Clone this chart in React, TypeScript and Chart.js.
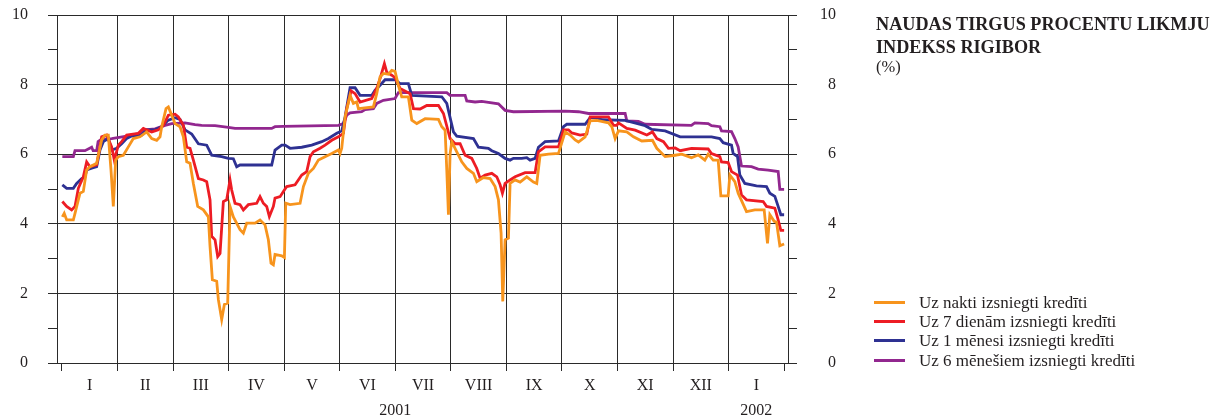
import React, { useEffect, useRef } from "react";
import { Chart, registerables } from "chart.js";

Chart.register(...registerables);

// ---- Axis / label data ----
const monthLabels = ["I", "II", "III", "IV", "V", "VI", "VII", "VIII", "IX", "X", "XI", "XII", "I"];
const yearLabels = ["2001", "2002"];
const yearPositions = [6, 12.5];
const yTickValues = [0, 1, 2, 3, 4, 5, 6, 7, 8, 9, 10];
const seriesLabels = [
  "Uz nakti izsniegti kredīti",
  "Uz 7 dienām izsniegti kredīti",
  "Uz 1 mēnesi izsniegti kredīti",
  "Uz 6 mēnešiem izsniegti kredīti",
];
const seriesColors = ["#F7941D", "#ED1C24", "#2E3192", "#92278F"];

// ---- Series: [months since 1 Jan 2001, rate %] ----
const overnight = [
  [0.006, 4.2], [0.04, 4.3], [0.084, 4.11], [0.204, 4.11], [0.234, 4.3], [0.324, 4.88], [0.384, 4.93],
  [0.444, 5.55], [0.504, 5.64], [0.624, 5.74], [0.714, 6.41], [0.774, 6.55], [0.834, 6.55], [0.882, 5.55],
  [0.924, 4.5], [0.966, 5.83], [1.014, 5.93], [1.104, 5.97], [1.194, 6.21], [1.284, 6.45], [1.404, 6.5],
  [1.524, 6.64], [1.615, 6.45], [1.705, 6.4], [1.765, 6.5], [1.795, 6.79], [1.873, 7.31], [1.915, 7.36],
  [1.963, 7.17], [2.035, 6.88], [2.125, 6.79], [2.185, 6.5], [2.245, 5.78], [2.305, 5.74], [2.365, 5.16],
  [2.443, 4.5], [2.545, 4.4], [2.635, 4.2], [2.665, 3.35], [2.707, 2.39], [2.785, 2.35], [2.815, 1.82],
  [2.875, 1.25], [2.923, 1.68], [2.983, 1.72], [3.025, 4.5], [3.085, 4.2], [3.205, 3.83], [3.265, 3.73],
  [3.325, 4.02], [3.475, 4.02], [3.565, 4.11], [3.655, 3.97], [3.715, 3.54], [3.763, 2.87], [3.805, 2.82],
  [3.835, 3.12], [3.956, 3.08], [4.004, 3.03], [4.028, 4.59], [4.106, 4.55], [4.286, 4.59], [4.346, 5.07],
  [4.436, 5.45], [4.526, 5.59], [4.616, 5.83], [4.736, 5.93], [4.856, 6.02], [4.976, 6.12], [5.006, 6.02],
  [5.036, 6.17], [5.096, 7.07], [5.186, 7.69], [5.246, 7.46], [5.306, 7.5], [5.336, 7.31], [5.606, 7.36],
  [5.666, 7.74], [5.726, 8.22], [5.786, 8.32], [5.876, 8.3], [5.936, 8.41], [5.996, 8.38], [6.056, 7.98],
  [6.116, 7.65], [6.236, 7.65], [6.297, 6.98], [6.387, 6.88], [6.537, 7.02], [6.777, 7.0], [6.837, 6.79],
  [6.897, 6.69], [6.927, 5.55], [6.957, 4.26], [6.987, 6.02], [7.017, 6.36], [7.107, 6.07], [7.197, 5.78],
  [7.287, 5.59], [7.407, 5.45], [7.467, 5.21], [7.587, 5.33], [7.707, 5.3], [7.797, 5.07], [7.857, 4.69],
  [7.905, 3.73], [7.935, 1.77], [7.977, 3.54], [8.037, 3.59], [8.067, 5.16], [8.157, 5.26], [8.247, 5.2],
  [8.367, 5.35], [8.487, 5.2], [8.547, 5.16], [8.607, 5.97], [8.757, 6.0], [8.938, 6.02], [9.058, 6.64],
  [9.148, 6.55], [9.238, 6.41], [9.298, 6.35], [9.418, 6.5], [9.508, 6.96], [9.628, 6.97], [9.838, 6.9],
  [9.898, 6.79], [9.958, 6.45], [10.018, 6.67], [10.168, 6.64], [10.288, 6.5], [10.438, 6.38], [10.63, 6.4],
  [10.708, 6.17], [10.858, 5.93], [11.038, 5.97], [11.158, 6.0], [11.332, 5.9], [11.453, 5.98], [11.573, 5.83],
  [11.633, 6.0], [11.723, 5.83], [11.813, 5.83], [11.861, 4.8], [11.993, 4.8], [12.023, 5.4], [12.113, 5.21],
  [12.173, 4.88], [12.323, 4.35], [12.473, 4.4], [12.641, 4.4], [12.701, 3.44], [12.743, 4.26], [12.821, 4.07],
  [12.863, 4.05], [12.923, 3.37], [13.0, 3.42],
];

const sevenDay = [
  [0.006, 4.64], [0.084, 4.5], [0.174, 4.4], [0.234, 4.5], [0.294, 5.02], [0.384, 5.35], [0.444, 5.78],
  [0.504, 5.64], [0.624, 5.69], [0.714, 6.5], [0.804, 6.55], [0.894, 6.21], [0.942, 5.83], [1.014, 6.26],
  [1.074, 6.36], [1.164, 6.55], [1.374, 6.6], [1.464, 6.74], [1.615, 6.64], [1.735, 6.7], [1.825, 6.83],
  [1.915, 7.12], [2.035, 7.15], [2.095, 7.07], [2.185, 6.83], [2.245, 6.2], [2.305, 6.17], [2.365, 5.83],
  [2.455, 5.3], [2.545, 5.26], [2.605, 5.21], [2.665, 4.69], [2.695, 3.64], [2.755, 3.54], [2.803, 3.06],
  [2.845, 3.15], [2.905, 4.64], [2.965, 4.69], [3.025, 5.26], [3.055, 4.97], [3.115, 4.59], [3.205, 4.55],
  [3.265, 4.4], [3.355, 4.55], [3.505, 4.59], [3.565, 4.78], [3.625, 4.59], [3.685, 4.5], [3.733, 4.21],
  [3.805, 4.5], [3.835, 4.74], [3.926, 4.78], [3.986, 4.93], [4.046, 5.07], [4.196, 5.12], [4.316, 5.4],
  [4.406, 5.5], [4.466, 5.93], [4.526, 6.07], [4.646, 6.17], [4.736, 6.26], [4.856, 6.4], [4.976, 6.5],
  [5.066, 6.6], [5.126, 7.31], [5.204, 7.82], [5.276, 7.74], [5.366, 7.5], [5.576, 7.6], [5.666, 7.89],
  [5.726, 8.17], [5.804, 8.6], [5.846, 8.36], [5.936, 8.27], [5.996, 8.2], [6.086, 7.89], [6.267, 7.74],
  [6.327, 7.31], [6.447, 7.3], [6.567, 7.4], [6.777, 7.4], [6.867, 7.17], [6.987, 6.45], [7.077, 6.3],
  [7.167, 6.3], [7.257, 5.97], [7.377, 5.88], [7.467, 5.59], [7.527, 5.31], [7.617, 5.4], [7.737, 5.45],
  [7.827, 5.35], [7.887, 5.12], [7.929, 4.88], [7.977, 5.16], [8.067, 5.26], [8.157, 5.35], [8.337, 5.47],
  [8.517, 5.47], [8.577, 6.07], [8.697, 6.21], [8.938, 6.21], [9.028, 6.7], [9.118, 6.7], [9.178, 6.61],
  [9.328, 6.55], [9.448, 6.58], [9.508, 7.07], [9.838, 7.07], [9.928, 6.83], [9.988, 6.83], [10.018, 6.9],
  [10.168, 6.74], [10.318, 6.69], [10.528, 6.55], [10.63, 6.64], [10.708, 6.45], [10.828, 6.36], [10.918, 6.17],
  [11.038, 6.18], [11.128, 6.1], [11.332, 6.17], [11.633, 6.15], [11.693, 6.02], [11.843, 5.93], [11.873, 5.78],
  [11.993, 5.76], [12.053, 5.5], [12.161, 5.4], [12.233, 4.83], [12.323, 4.69], [12.623, 4.64], [12.683, 4.5],
  [12.833, 4.45], [12.893, 4.11], [12.941, 3.81], [13.0, 3.81],
];

const oneMonth = [
  [0.006, 5.12], [0.084, 5.02], [0.204, 5.02], [0.264, 5.16], [0.354, 5.3], [0.414, 5.35], [0.444, 5.55],
  [0.534, 5.6], [0.624, 5.64], [0.684, 6.12], [0.744, 6.36], [0.834, 6.45], [0.894, 6.12], [0.984, 6.17],
  [1.074, 6.3], [1.164, 6.45], [1.254, 6.52], [1.434, 6.55], [1.524, 6.7], [1.675, 6.7], [1.795, 6.79],
  [1.915, 6.98], [2.035, 7.05], [2.125, 7.0], [2.215, 6.7], [2.335, 6.58], [2.455, 6.3], [2.605, 6.26],
  [2.695, 5.97], [2.875, 5.93], [2.995, 5.88], [3.085, 5.87], [3.145, 5.64], [3.205, 5.69], [3.775, 5.69],
  [3.835, 6.12], [3.956, 6.26], [4.016, 6.26], [4.106, 6.17], [4.316, 6.2], [4.496, 6.26], [4.676, 6.36],
  [4.796, 6.45], [4.946, 6.6], [5.036, 6.67], [5.096, 7.07], [5.186, 7.91], [5.276, 7.91], [5.366, 7.69],
  [5.576, 7.69], [5.636, 7.84], [5.726, 7.98], [5.816, 8.14], [5.996, 8.14], [6.086, 8.03], [6.236, 8.03],
  [6.297, 7.69], [6.837, 7.65], [6.927, 7.46], [7.047, 6.64], [7.107, 6.52], [7.407, 6.45], [7.497, 6.2],
  [7.677, 6.17], [7.737, 6.1], [7.857, 6.02], [7.977, 5.88], [8.067, 5.83], [8.127, 5.88], [8.277, 5.88],
  [8.367, 5.9], [8.427, 5.83], [8.517, 5.88], [8.577, 6.2], [8.697, 6.36], [8.938, 6.38], [9.028, 6.79],
  [9.088, 6.86], [9.418, 6.86], [9.508, 7.05], [9.628, 7.05], [9.718, 6.99], [10.138, 6.97], [10.258, 6.92],
  [10.498, 6.82], [10.618, 6.71], [10.858, 6.67], [11.128, 6.5], [11.693, 6.5], [11.843, 6.45], [11.903, 6.33],
  [12.053, 6.26], [12.083, 6.02], [12.161, 5.93], [12.203, 5.4], [12.293, 5.16], [12.503, 5.09], [12.683, 5.07],
  [12.743, 4.88], [12.833, 4.79], [12.893, 4.5], [12.941, 4.26], [13.0, 4.26],
];

const sixMonth = [
  [0.006, 5.93], [0.204, 5.93], [0.234, 6.1], [0.414, 6.1], [0.534, 6.2], [0.56, 6.1], [0.624, 6.1],
  [0.65, 6.36], [0.714, 6.43], [0.894, 6.45], [1.164, 6.52], [1.404, 6.6], [1.494, 6.7], [1.675, 6.73],
  [1.855, 6.83], [1.975, 6.88], [2.215, 6.9], [2.395, 6.85], [2.515, 6.83], [2.755, 6.82], [2.995, 6.77],
  [3.115, 6.74], [3.775, 6.74], [3.835, 6.79], [3.986, 6.8], [4.976, 6.83], [5.066, 6.88], [5.126, 7.12],
  [5.186, 7.19], [5.396, 7.22], [5.456, 7.28], [5.606, 7.31], [5.666, 7.46], [5.786, 7.55], [5.996, 7.6],
  [6.056, 7.77], [6.927, 7.77], [6.987, 7.69], [7.257, 7.69], [7.287, 7.53], [7.437, 7.5], [7.557, 7.52],
  [7.857, 7.45], [7.977, 7.26], [8.127, 7.22], [9.058, 7.24], [9.298, 7.22], [9.478, 7.17], [10.138, 7.17],
  [10.168, 6.96], [10.378, 6.94], [10.498, 6.86], [11.332, 6.83], [11.392, 6.9], [11.633, 6.88], [11.693, 6.82],
  [11.843, 6.79], [11.873, 6.67], [12.053, 6.65], [12.113, 6.45], [12.173, 6.21], [12.233, 5.66], [12.413, 5.64],
  [12.533, 5.57], [12.713, 5.54], [12.893, 5.5], [12.923, 4.99], [13.0, 4.99],
];

const seriesData = [overnight, sevenDay, oneMonth, sixMonth];

const FONT = "'Liberation Serif', 'Times New Roman', serif";
const TEXT = "#231F20";
const LINE = "#2a2a2a";
const X_MIN = -0.09;
const X_MAX = 13.07;

const noHPad = (s: any) => {
  s.paddingLeft = 0;
  s.paddingRight = 0;
};
const noVPad = (s: any) => {
  s.paddingTop = 0;
  s.paddingBottom = 0;
};

export default function App() {
  const canvasRef = useRef<HTMLCanvasElement | null>(null);

  useEffect(() => {
    const canvas = canvasRef.current;
    if (!canvas) return;
    const tickFont = { family: FONT, size: 16 };
    const chart = new Chart(canvas, {
      type: "line",
      data: {
        datasets: seriesData.map((d, i) => ({
          label: seriesLabels[i],
          data: d.map(([x, y]) => ({ x, y })),
          borderColor: seriesColors[i],
          backgroundColor: seriesColors[i],
          borderWidth: 2.8,
          pointRadius: 0,
          fill: false,
          tension: 0,
          xAxisID: "x",
          yAxisID: "y",
        })),
      },
      options: {
        animation: false,
        responsive: true,
        maintainAspectRatio: false,
        layout: { padding: { top: 15, right: 381, bottom: 0, left: 0 } },
        plugins: { legend: { display: false }, tooltip: { enabled: false } },
        scales: {
          x: {
            type: "linear",
            position: "bottom",
            weight: 0,
            min: X_MIN,
            max: X_MAX,
            afterBuildTicks: (s: any) => {
              s.ticks = monthLabels.map((_, i) => ({ value: i })).concat([{ value: monthLabels.length }]);
            },
            ticks: { display: false },
            grid: {
              color: (c: any) =>
                c.tick && c.tick.value >= 1 && c.tick.value <= 12 ? LINE : "rgba(0,0,0,0)",
              tickColor: LINE,
              tickLength: 8,
              lineWidth: 1,
            },
            border: { display: true, color: LINE, width: 1 },
            afterFit: (s: any) => {
              s.height = 10;
              noHPad(s);
            },
          },
          x2: {
            type: "linear",
            position: "bottom",
            weight: 1,
            min: X_MIN,
            max: X_MAX,
            afterBuildTicks: (s: any) => {
              s.ticks = monthLabels.map((_, i) => ({ value: i + 0.5 }));
            },
            ticks: {
              autoSkip: false,
              maxRotation: 0,
              padding: 3,
              font: tickFont,
              color: TEXT,
              callback: (_v: any, i: number) => monthLabels[i],
            },
            grid: { display: false, drawTicks: false },
            border: { display: false },
            afterFit: (s: any) => {
              s.height = 26;
              noHPad(s);
            },
          },
          x3: {
            type: "linear",
            position: "bottom",
            weight: 2,
            min: X_MIN,
            max: X_MAX,
            afterBuildTicks: (s: any) => {
              s.ticks = yearPositions.map((v) => ({ value: v }));
            },
            ticks: {
              autoSkip: false,
              maxRotation: 0,
              padding: 2,
              font: tickFont,
              color: TEXT,
              callback: (_v: any, i: number) => yearLabels[i],
            },
            grid: { display: false, drawTicks: false },
            border: { display: false },
            afterFit: (s: any) => {
              s.height = 19;
              noHPad(s);
            },
          },
          y: {
            type: "linear",
            position: "left",
            min: 0,
            max: 10,
            afterBuildTicks: (s: any) => {
              s.ticks = yTickValues.map((v) => ({ value: v }));
            },
            ticks: {
              autoSkip: false,
              padding: 20,
              font: tickFont,
              color: TEXT,
              callback: (v: any) => (Number(v) % 2 === 0 ? String(v) : ""),
            },
            grid: {
              color: (c: any) => (c.tick && c.tick.value % 2 === 0 ? LINE : "rgba(0,0,0,0)"),
              tickColor: LINE,
              tickLength: 9,
              lineWidth: 1,
            },
            border: { display: true, color: LINE, width: 1 },
            afterFit: (s: any) => {
              s.width = 57;
              noVPad(s);
            },
          },
          y2: {
            type: "linear",
            position: "right",
            min: 0,
            max: 10,
            afterBuildTicks: (s: any) => {
              s.ticks = yTickValues.map((v) => ({ value: v }));
            },
            ticks: {
              autoSkip: false,
              crossAlign: "far",
              font: tickFont,
              color: TEXT,
              callback: (v: any) => (Number(v) % 2 === 0 ? String(v) : ""),
            },
            grid: { drawOnChartArea: false, tickColor: LINE, tickLength: 9 },
            border: { display: true, color: LINE, width: 1 },
            afterFit: (s: any) => {
              s.width = 48;
              noVPad(s);
            },
          },
        },
      } as any,
    });
    return () => chart.destroy();
  }, []);

  return (
    <div
      style={{
        position: "fixed",
        left: 0,
        top: 0,
        width: 1217,
        height: 418,
        background: "#fff",
        overflow: "hidden",
      }}
    >
      <div style={{ position: "absolute", left: 0, top: 0, width: 1217, height: 418 }}>
        <canvas ref={canvasRef} />
      </div>
      <div
        style={{
          position: "absolute",
          left: 876,
          top: 12.5,
          fontFamily: FONT,
          fontWeight: "bold",
          fontSize: 18.2,
          lineHeight: "23px",
          color: TEXT,
          whiteSpace: "nowrap",
        }}
      >
        NAUDAS TIRGUS PROCENTU LIKMJU
        <br />
        INDEKSS RIGIBOR
      </div>
      <div
        style={{
          position: "absolute",
          left: 876,
          top: 56.5,
          fontFamily: FONT,
          fontSize: 16.5,
          lineHeight: "20px",
          color: TEXT,
        }}
      >
        (%)
      </div>
      <div style={{ position: "absolute", left: 874, top: 292.5 }}>
        {seriesLabels.map((lab, i) => (
          <div key={i} style={{ display: "flex", alignItems: "center", height: 19.4 }}>
            <div style={{ width: 31, height: 3, background: seriesColors[i], marginRight: 14 }} />
            <span
              style={{
                fontFamily: FONT,
                fontSize: 17,
                lineHeight: "19px",
                color: TEXT,
                whiteSpace: "nowrap",
              }}
            >
              {lab}
            </span>
          </div>
        ))}
      </div>
    </div>
  );
}
